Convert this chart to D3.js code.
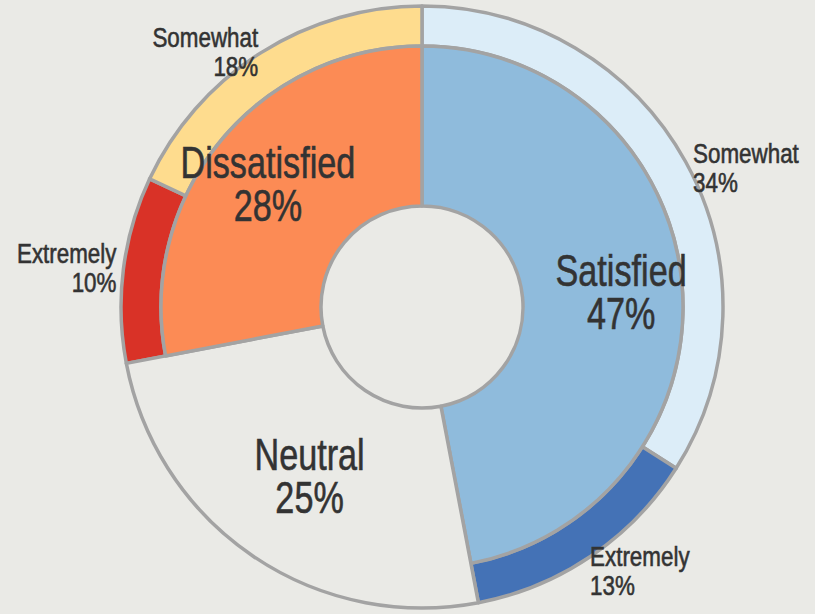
<!DOCTYPE html>
<html lang="en">
<head>
    <meta charset="UTF-8">
    <title>Satisfaction</title>
    <style>
        body {
            margin: 0;
            background: #eaeae6;
        }
        text {
            font-family: "Liberation Sans", "Roboto", sans-serif;
            fill: #333333;
            stroke: #333333;
            stroke-width: 0.6px;
        }
    </style>
</head>
<body>
<div id="chart"></div>
<script src="https://d3js.org/d3.v7.min.js"></script>
<script>
    // data
    const categories = ["Satisfied", "Neutral", "Dissatisfied"];
    const categoryValues = [47, 25, 28];
    const subParents = ["Satisfied", "Satisfied", "Neutral", "Dissatisfied", "Dissatisfied"];
    const subLabels = ["Somewhat", "Extremely", "", "Extremely", "Somewhat"];
    const subValues = [34, 13, 25, 10, 18];

    const width = 815, height = 614;
    const cx = 422, cy = 307;
    const rHole = 101, rMid = 261, rOuter = 301;

    const innerColor = {Satisfied: "#8fbbdc", Neutral: "#eaeae6", Dissatisfied: "#fc8b55"};
    const outerColor = ["#dcedf8", "#4472b6", "none", "#d93227", "#fedc8e"];
    // small label nudges (x, y) for the outer labels
    const nudge = [[-5, 8], [-9, -2], [0, 0], [7, -5], [5, 6]];

    const svg = d3.select("#chart").append("svg")
        .attr("width", width)
        .attr("height", height);

    const g = svg.append("g").attr("transform", `translate(${cx},${cy})`);

    const pie = d3.pie().sort(null).value(d => d.value);

    const innerData = pie(categories.map((c, i) => ({name: c, value: categoryValues[i]})));
    const outerData = pie(subValues.map((v, i) => ({parent: subParents[i], label: subLabels[i], value: v, idx: i})));

    const arcInner = d3.arc()
        .innerRadius(rHole)
        .outerRadius(d => d.data.name === "Neutral" ? rOuter : rMid);
    const arcOuter = d3.arc().innerRadius(rMid).outerRadius(rOuter);

    // outer ring
    g.selectAll("path.outer")
        .data(outerData.filter(d => d.data.parent !== "Neutral"))
        .join("path")
        .attr("class", "outer")
        .attr("d", arcOuter)
        .attr("fill", d => outerColor[d.data.idx])
        .attr("stroke", "#a3a3a3")
        .attr("stroke-width", 3.5)
        .attr("stroke-linejoin", "round");

    // inner pie
    g.selectAll("path.inner")
        .data(innerData)
        .join("path")
        .attr("class", "inner")
        .attr("d", arcInner)
        .attr("fill", d => innerColor[d.data.name])
        .attr("stroke", "#a3a3a3")
        .attr("stroke-width", 3.5)
        .attr("stroke-linejoin", "round");

    // condensed two-line label
    function twoLine(x, y, l1, l2, size, gap, squeeze, anchor) {
        const t = g.append("g")
            .attr("transform", `translate(${x},${y}) scale(${squeeze},1)`)
            .append("text")
            .attr("text-anchor", anchor)
            .style("font-size", size + "px");
        t.append("tspan").attr("x", 0).attr("y", 0).text(l1);
        t.append("tspan").attr("x", 0).attr("y", gap).text(l2);
    }

    // big labels
    const bigArc = d3.arc().innerRadius(200).outerRadius(200);
    innerData.forEach(d => {
        const [x, y] = bigArc.centroid(d);
        twoLine(x, y - 2, d.data.name, d.data.value + "%", 45, 43, 0.76, "middle");
    });

    // outer labels
    const labelArc = d3.arc().innerRadius(315).outerRadius(315);
    outerData.filter(d => d.data.parent !== "Neutral").forEach(d => {
        const [x, y] = labelArc.centroid(d);
        const n = nudge[d.data.idx];
        const mid = (d.startAngle + d.endAngle) / 2;
        const anchor = mid < Math.PI ? "start" : "end";
        twoLine(x + n[0], y + n[1], d.data.label, d.data.value + "%", 28, 29, 0.8, anchor);
    });
</script>
</body>
</html>
